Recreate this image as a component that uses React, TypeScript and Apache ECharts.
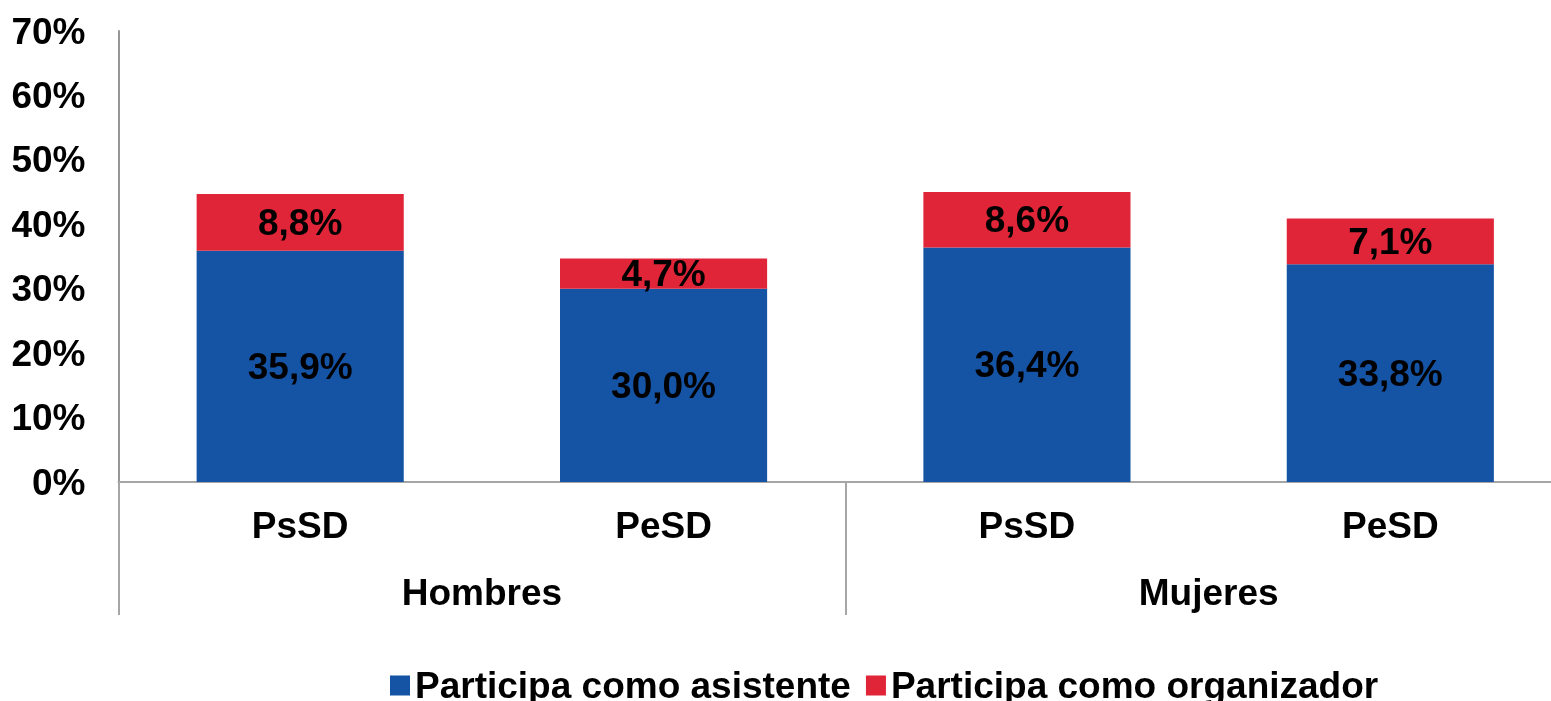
import React, { useEffect, useRef } from "react";
import * as echarts from "echarts";

const categories = ["PsSD", "PeSD", "PsSD", "PeSD"];
const groups = ["Hombres", "Mujeres"];
const asistente = [35.9, 30.0, 36.4, 33.8];
const organizador = [8.8, 4.7, 8.6, 7.1];
const totals = [44.7, 34.7, 45.0, 40.9];
const seriesNames = ["Participa como asistente", "Participa como organizador"];

const FONT = "'Liberation Sans', Arial, sans-serif";
const fmt = (v: number) => v.toFixed(1).replace(".", ",") + "%";

export default function App() {
  const ref = useRef<HTMLDivElement>(null);
  useEffect(() => {
    if (!ref.current) return;
    const chart = echarts.init(ref.current, null, { renderer: "svg" });
    const text = { fontFamily: FONT, fontWeight: "bold" as const, fontSize: 37, color: "#000" };
    chart.setOption({
      animation: false,
      grid: { left: 118.5, right: 0, top: 31, bottom: 219, containLabel: false },
      legend: {
        data: seriesNames,
        left: 385,
        top: 662,
        itemWidth: 20,
        itemHeight: 20,
        itemGap: 15,
        icon: "rect",
        textStyle: { ...text, padding: [0, 0, 0, 0] },
      },
      xAxis: [
        {
          type: "category",
          data: categories,
          axisLine: { show: true, lineStyle: { color: "#a6a6a6", width: 2 } },
          axisTick: { show: false },
          axisLabel: { ...text, margin: 25, interval: 0 },
        },
        {
          type: "category",
          data: groups,
          position: "bottom",
          offset: 133,
          axisLine: { show: false },
          axisTick: { show: true, inside: true, length: 133, lineStyle: { color: "#a6a6a6", width: 2 } },
          axisLabel: { ...text, margin: -41, interval: 0 },
        },
      ],
      yAxis: {
        type: "value",
        min: 0,
        max: 70,
        interval: 10,
        axisLine: { show: true, lineStyle: { color: "#969696", width: 2 } },
        axisTick: { show: false },
        splitLine: { show: false },
        axisLabel: { ...text, margin: 33, formatter: "{value}%" },
      },
      series: [
        {
          name: seriesNames[0],
          type: "bar",
          stack: "s",
          barWidth: "57%",
          data: asistente,
          itemStyle: { color: "#1553A5" },
          label: { show: true, position: "inside", ...text, formatter: (p: any) => fmt(p.value) },
        },
        {
          name: seriesNames[1],
          type: "bar",
          stack: "s",
          data: organizador,
          itemStyle: { color: "#E12538" },
          label: { show: true, position: "inside", ...text, formatter: (p: any) => fmt(p.value) },
        },
        {
          name: "Total",
          type: "line",
          data: totals,
          symbol: "none",
          lineStyle: { opacity: 0 },
          label: { show: true, position: "top", distance: 14, ...text, formatter: (p: any) => fmt(p.value) },
          silent: true,
        },
      ],
    });
    return () => chart.dispose();
  }, []);
  return (
    <div style={{ position: "fixed", left: 0, top: 0, width: 1551, height: 701, overflow: "hidden" }}>
      <div ref={ref} style={{ position: "absolute", left: 0, top: 0, width: 1572, height: 701 }} />
    </div>
  );
}
